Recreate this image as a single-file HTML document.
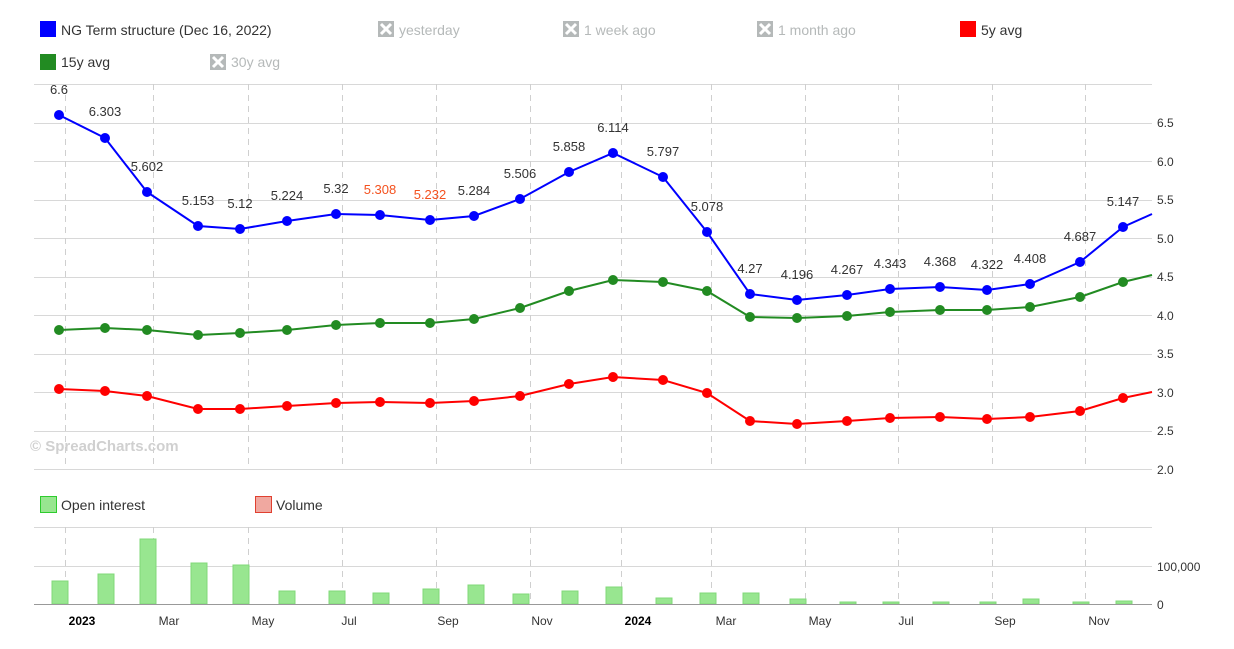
<!DOCTYPE html>
<html><head><meta charset="utf-8"><style>
body{margin:0;background:#fff;}
svg{display:block;font-family:"Liberation Sans",sans-serif;}
</style></head><body>
<svg width="1234" height="649" viewBox="0 0 1234 649" xmlns="http://www.w3.org/2000/svg">
<rect width="1234" height="649" fill="#fff"/>
<!-- legend -->
<g font-size="14">
<rect x="40" y="21" width="16" height="16" fill="#0000ff"/><text x="61" y="35" fill="#333">NG Term structure (Dec 16, 2022)</text>
<rect x="378" y="21" width="16" height="16" fill="#b5b9b9"/><path d="M381 24l10 10M391 24l-10 10" stroke="#fff" stroke-width="3"/><text x="399" y="35" fill="#b5b9b9">yesterday</text>
<rect x="563" y="21" width="16" height="16" fill="#b5b9b9"/><path d="M566 24l10 10M576 24l-10 10" stroke="#fff" stroke-width="3"/><text x="584" y="35" fill="#b5b9b9">1 week ago</text>
<rect x="757" y="21" width="16" height="16" fill="#b5b9b9"/><path d="M760 24l10 10M770 24l-10 10" stroke="#fff" stroke-width="3"/><text x="778" y="35" fill="#b5b9b9">1 month ago</text>
<rect x="960" y="21" width="16" height="16" fill="#ff0000"/><text x="981" y="35" fill="#333">5y avg</text>
<rect x="40" y="54" width="16" height="16" fill="#228b22"/><text x="61" y="67" fill="#333">15y avg</text>
<rect x="210" y="54" width="16" height="16" fill="#b5b9b9"/><path d="M213 57l10 10M223 57l-10 10" stroke="#fff" stroke-width="3"/><text x="231" y="67" fill="#b5b9b9">30y avg</text>
</g>
<!-- grid -->
<g stroke="#d8d8d8" stroke-width="1">
<line x1="34" x2="1152" y1="84.5" y2="84.5"/><line x1="34" x2="1152" y1="123.5" y2="123.5"/><line x1="34" x2="1152" y1="161.5" y2="161.5"/><line x1="34" x2="1152" y1="200.5" y2="200.5"/><line x1="34" x2="1152" y1="238.5" y2="238.5"/><line x1="34" x2="1152" y1="277.5" y2="277.5"/><line x1="34" x2="1152" y1="315.5" y2="315.5"/><line x1="34" x2="1152" y1="354.5" y2="354.5"/><line x1="34" x2="1152" y1="392.5" y2="392.5"/><line x1="34" x2="1152" y1="431.5" y2="431.5"/><line x1="34" x2="1152" y1="469.5" y2="469.5"/>
<line x1="34" x2="1152" y1="527.5" y2="527.5"/><line x1="34" x2="1152" y1="566.5" y2="566.5"/>
</g>
<g stroke="#cfcfcf" stroke-dasharray="6,5">
<path d="M65.5 84V469M153.5 84V469M248.5 84V469M342.5 84V469M436.5 84V469M530.5 84V469M621.5 84V469M711.5 84V469M805.5 84V469M898.5 84V469M992.5 84V469M1085.5 84V469"/>
<path d="M65.5 527V604M153.5 527V604M248.5 527V604M342.5 527V604M436.5 527V604M530.5 527V604M621.5 527V604M711.5 527V604M805.5 527V604M898.5 527V604M992.5 527V604M1085.5 527V604"/>
</g>
<!-- y labels -->
<g font-size="12" fill="#333">
<text x="1157" y="127">6.5</text><text x="1157" y="166">6.0</text><text x="1157" y="204">5.5</text><text x="1157" y="243">5.0</text><text x="1157" y="281">4.5</text><text x="1157" y="320">4.0</text><text x="1157" y="358">3.5</text><text x="1157" y="397">3.0</text><text x="1157" y="435">2.5</text><text x="1157" y="474">2.0</text>
<text x="1157" y="571">100,000</text><text x="1157" y="609">0</text>
</g>
<text x="30" y="451" font-size="15" font-weight="bold" fill="#d0d0d0">© SpreadCharts.com</text>
<!-- red -->
<polyline fill="none" stroke="#ff0000" stroke-width="2" points="59,389 105,391 147,396 198,409 240,409 287,406 336,403 380,402 430,403 474,401 520,396 569,384 613,377 663,380 707,393 750,421 797,424 847,421 890,418 940,417 987,419 1030,417 1080,411 1123,398 1152,392"/>
<g fill="#ff0000"><circle cx="59" cy="389" r="5"/><circle cx="105" cy="391" r="5"/><circle cx="147" cy="396" r="5"/><circle cx="198" cy="409" r="5"/><circle cx="240" cy="409" r="5"/><circle cx="287" cy="406" r="5"/><circle cx="336" cy="403" r="5"/><circle cx="380" cy="402" r="5"/><circle cx="430" cy="403" r="5"/><circle cx="474" cy="401" r="5"/><circle cx="520" cy="396" r="5"/><circle cx="569" cy="384" r="5"/><circle cx="613" cy="377" r="5"/><circle cx="663" cy="380" r="5"/><circle cx="707" cy="393" r="5"/><circle cx="750" cy="421" r="5"/><circle cx="797" cy="424" r="5"/><circle cx="847" cy="421" r="5"/><circle cx="890" cy="418" r="5"/><circle cx="940" cy="417" r="5"/><circle cx="987" cy="419" r="5"/><circle cx="1030" cy="417" r="5"/><circle cx="1080" cy="411" r="5"/><circle cx="1123" cy="398" r="5"/></g>
<!-- green -->
<polyline fill="none" stroke="#228b22" stroke-width="2" points="59,330 105,328 147,330 198,335 240,333 287,330 336,325 380,323 430,323 474,319 520,308 569,291 613,280 663,282 707,291 750,317 797,318 847,316 890,312 940,310 987,310 1030,307 1080,297 1123,282 1152,275"/>
<g fill="#228b22"><circle cx="59" cy="330" r="5"/><circle cx="105" cy="328" r="5"/><circle cx="147" cy="330" r="5"/><circle cx="198" cy="335" r="5"/><circle cx="240" cy="333" r="5"/><circle cx="287" cy="330" r="5"/><circle cx="336" cy="325" r="5"/><circle cx="380" cy="323" r="5"/><circle cx="430" cy="323" r="5"/><circle cx="474" cy="319" r="5"/><circle cx="520" cy="308" r="5"/><circle cx="569" cy="291" r="5"/><circle cx="613" cy="280" r="5"/><circle cx="663" cy="282" r="5"/><circle cx="707" cy="291" r="5"/><circle cx="750" cy="317" r="5"/><circle cx="797" cy="318" r="5"/><circle cx="847" cy="316" r="5"/><circle cx="890" cy="312" r="5"/><circle cx="940" cy="310" r="5"/><circle cx="987" cy="310" r="5"/><circle cx="1030" cy="307" r="5"/><circle cx="1080" cy="297" r="5"/><circle cx="1123" cy="282" r="5"/></g>
<!-- blue -->
<polyline fill="none" stroke="#0000ff" stroke-width="2" points="59,115 105,138 147,192 198,226 240,229 287,221 336,214 380,215 430,220 474,216 520,199 569,172 613,153 663,177 707,232 750,294 797,300 847,295 890,289 940,287 987,290 1030,284 1080,262 1123,227 1152,214"/>
<g fill="#0000ff"><circle cx="59" cy="115" r="5"/><circle cx="105" cy="138" r="5"/><circle cx="147" cy="192" r="5"/><circle cx="198" cy="226" r="5"/><circle cx="240" cy="229" r="5"/><circle cx="287" cy="221" r="5"/><circle cx="336" cy="214" r="5"/><circle cx="380" cy="215" r="5"/><circle cx="430" cy="220" r="5"/><circle cx="474" cy="216" r="5"/><circle cx="520" cy="199" r="5"/><circle cx="569" cy="172" r="5"/><circle cx="613" cy="153" r="5"/><circle cx="663" cy="177" r="5"/><circle cx="707" cy="232" r="5"/><circle cx="750" cy="294" r="5"/><circle cx="797" cy="300" r="5"/><circle cx="847" cy="295" r="5"/><circle cx="890" cy="289" r="5"/><circle cx="940" cy="287" r="5"/><circle cx="987" cy="290" r="5"/><circle cx="1030" cy="284" r="5"/><circle cx="1080" cy="262" r="5"/><circle cx="1123" cy="227" r="5"/></g>
<g font-size="13" fill="#333" text-anchor="middle">
<text x="59" y="94">6.6</text><text x="105" y="116">6.303</text><text x="147" y="171">5.602</text><text x="198" y="205">5.153</text><text x="240" y="208">5.12</text><text x="287" y="200">5.224</text><text x="336" y="193">5.32</text><text x="380" y="194" fill="#f4511e">5.308</text><text x="430" y="199" fill="#f4511e">5.232</text><text x="474" y="195">5.284</text><text x="520" y="178">5.506</text><text x="569" y="151">5.858</text><text x="613" y="132">6.114</text><text x="663" y="156">5.797</text><text x="707" y="211">5.078</text><text x="750" y="273">4.27</text><text x="797" y="279">4.196</text><text x="847" y="274">4.267</text><text x="890" y="268">4.343</text><text x="940" y="266">4.368</text><text x="987" y="269">4.322</text><text x="1030" y="263">4.408</text><text x="1080" y="241">4.687</text><text x="1123" y="206">5.147</text>
</g>
<!-- bottom legend -->
<rect x="40.5" y="496.5" width="16" height="16" fill="#98e690" stroke="#2ecc2e"/><text x="61" y="510" font-size="14" fill="#333">Open interest</text>
<rect x="255.5" y="496.5" width="16" height="16" fill="#f0a8a0" stroke="#e04030"/><text x="276" y="510" font-size="14" fill="#333">Volume</text>
<!-- bars -->
<g fill="#98e690" stroke="#80d878">
<rect x="52" y="581" width="16" height="23"/><rect x="98" y="574" width="16" height="30"/><rect x="140" y="539" width="16" height="65"/><rect x="191" y="563" width="16" height="41"/><rect x="233" y="565" width="16" height="39"/><rect x="279" y="591" width="16" height="13"/><rect x="329" y="591" width="16" height="13"/><rect x="373" y="593" width="16" height="11"/><rect x="423" y="589" width="16" height="15"/><rect x="468" y="585" width="16" height="19"/><rect x="513" y="594" width="16" height="10"/><rect x="562" y="591" width="16" height="13"/><rect x="606" y="587" width="16" height="17"/><rect x="656" y="598" width="16" height="6"/><rect x="700" y="593" width="16" height="11"/><rect x="743" y="593" width="16" height="11"/><rect x="790" y="599" width="16" height="5"/><rect x="840" y="602" width="16" height="2"/><rect x="883" y="602" width="16" height="2"/><rect x="933" y="602" width="16" height="2"/><rect x="980" y="602" width="16" height="2"/><rect x="1023" y="599" width="16" height="5"/><rect x="1073" y="602" width="16" height="2"/><rect x="1116" y="601" width="16" height="3"/>
</g>
<line x1="34" x2="1152" y1="604.5" y2="604.5" stroke="#999"/>
<g font-size="12" fill="#333" text-anchor="middle">
<text x="82" y="625" font-weight="bold" fill="#000">2023</text><text x="169" y="625">Mar</text><text x="263" y="625">May</text><text x="349" y="625">Jul</text><text x="448" y="625">Sep</text><text x="542" y="625">Nov</text><text x="638" y="625" font-weight="bold" fill="#000">2024</text><text x="726" y="625">Mar</text><text x="820" y="625">May</text><text x="906" y="625">Jul</text><text x="1005" y="625">Sep</text><text x="1099" y="625">Nov</text>
</g>
</svg>
</body></html>
